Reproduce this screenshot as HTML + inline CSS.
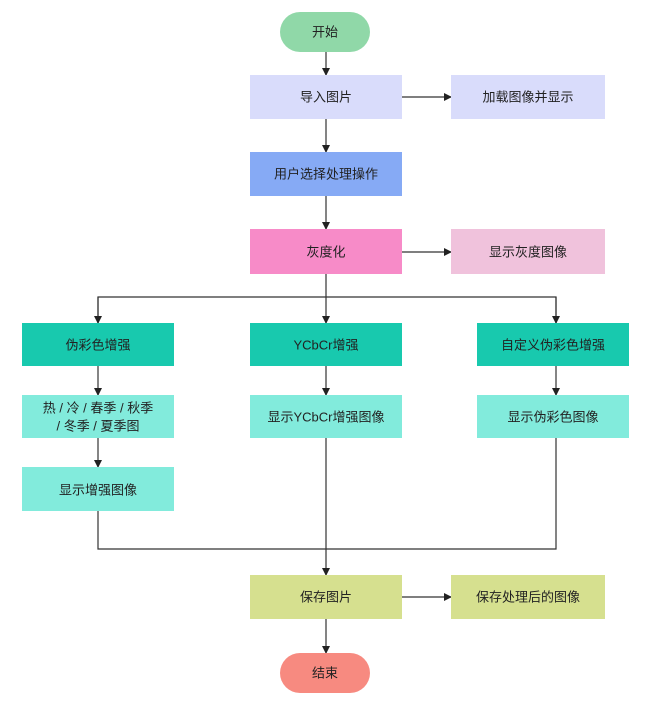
<!DOCTYPE html>
<html><head><meta charset="utf-8"><style>
html,body{margin:0;padding:0;background:#fff;}
text{font-family:"Liberation Sans","Noto Sans CJK SC",sans-serif;font-size:13px;fill:#222;text-anchor:middle;dominant-baseline:central;}
line,polyline{stroke:#333;stroke-width:1.2;fill:none;}
</style></head><body>
<svg width="650" height="698" viewBox="0 0 650 698" xmlns="http://www.w3.org/2000/svg">
<defs><marker id="a" markerWidth="8" markerHeight="8" refX="7" refY="4" orient="auto" markerUnits="userSpaceOnUse"><path d="M0,0 L8,4 L0,8 z" fill="#222"/></marker></defs>
<!-- connectors -->
<line x1="326" y1="52" x2="326" y2="75" marker-end="url(#a)"/>
<line x1="402" y1="97" x2="451" y2="97" marker-end="url(#a)"/>
<line x1="326" y1="119" x2="326" y2="152" marker-end="url(#a)"/>
<line x1="326" y1="196" x2="326" y2="229" marker-end="url(#a)"/>
<line x1="402" y1="252" x2="451" y2="252" marker-end="url(#a)"/>
<line x1="326" y1="274" x2="326" y2="323" marker-end="url(#a)"/>
<polyline points="98,323 98,297 556,297 556,323"/>
<line x1="98" y1="297" x2="98" y2="323" marker-end="url(#a)"/>
<line x1="556" y1="297" x2="556" y2="323" marker-end="url(#a)"/>
<line x1="98" y1="366" x2="98" y2="395" marker-end="url(#a)"/>
<line x1="326" y1="366" x2="326" y2="395" marker-end="url(#a)"/>
<line x1="556" y1="366" x2="556" y2="395" marker-end="url(#a)"/>
<line x1="98" y1="438" x2="98" y2="467" marker-end="url(#a)"/>
<polyline points="98,511 98,549 556,549 556,438"/>
<line x1="326" y1="438" x2="326" y2="575" marker-end="url(#a)"/>
<line x1="402" y1="597" x2="451" y2="597" marker-end="url(#a)"/>
<line x1="326" y1="619" x2="326" y2="653" marker-end="url(#a)"/>
<!-- nodes -->
<rect x="280" y="12" width="90" height="40" rx="20" fill="#90d8a8"/><text x="325" y="32">开始</text>
<rect x="250" y="75" width="152" height="44" fill="#d9dcfb"/><text x="326" y="97">导入图片</text>
<rect x="451" y="75" width="154" height="44" fill="#d9dcfb"/><text x="528" y="97">加载图像并显示</text>
<rect x="250" y="152" width="152" height="44" fill="#86aaf5"/><text x="326" y="174">用户选择处理操作</text>
<rect x="250" y="229" width="152" height="45" fill="#f78bc8"/><text x="326" y="252">灰度化</text>
<rect x="451" y="229" width="154" height="45" fill="#f0c2dc"/><text x="528" y="252">显示灰度图像</text>
<rect x="22" y="323" width="152" height="43" fill="#18c9ae"/><text x="98" y="345">伪彩色增强</text>
<rect x="250" y="323" width="152" height="43" fill="#18c9ae"/><text x="326" y="345">YCbCr增强</text>
<rect x="477" y="323" width="152" height="43" fill="#18c9ae"/><text x="553" y="345">自定义伪彩色增强</text>
<rect x="22" y="395" width="152" height="43" fill="#82ebdc"/><text x="98" y="408">热 / 冷 / 春季 / 秋季</text><text x="98" y="426">/ 冬季 / 夏季图</text>
<rect x="250" y="395" width="152" height="43" fill="#82ebdc"/><text x="326" y="417">显示YCbCr增强图像</text>
<rect x="477" y="395" width="152" height="43" fill="#82ebdc"/><text x="553" y="417">显示伪彩色图像</text>
<rect x="22" y="467" width="152" height="44" fill="#82ebdc"/><text x="98" y="490">显示增强图像</text>
<rect x="250" y="575" width="152" height="44" fill="#d6e08f"/><text x="326" y="597">保存图片</text>
<rect x="451" y="575" width="154" height="44" fill="#d6e08f"/><text x="528" y="597">保存处理后的图像</text>
<rect x="280" y="653" width="90" height="40" rx="20" fill="#f78a80"/><text x="325" y="673">结束</text>
</svg>
</body></html>
